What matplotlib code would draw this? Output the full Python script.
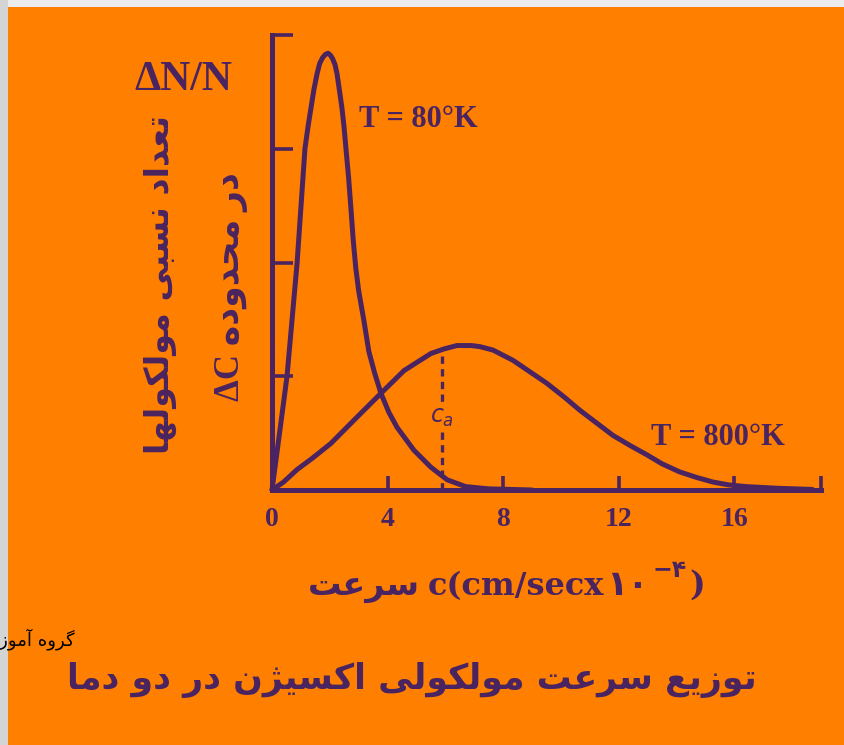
import matplotlib
matplotlib.use('Agg')
import matplotlib.pyplot as plt
from matplotlib.patches import Rectangle

# سرعت (c) و مقدار نسبی برای دو دما، خوانده شده از تصویر
c_80 = [0, 0.24, 0.52, 0.87, 1.14, 1.25, 1.35, 1.45, 1.56, 1.65, 1.75, 1.85, 1.94,
        2.03, 2.1, 2.18, 2.25, 2.33, 2.42, 2.49, 2.56, 2.65, 2.73, 2.81, 2.9, 3.0,
        3.18, 3.35, 3.55, 3.77, 4.05, 4.33, 4.91, 5.5, 6.06, 6.7, 7.5, 9.0]
n_80 = [0, 0.46, 1.0, 2.0, 3.0, 3.2, 3.36, 3.52, 3.66, 3.75, 3.8, 3.83, 3.84,
        3.82, 3.79, 3.74, 3.66, 3.52, 3.36, 3.2, 3.0, 2.75, 2.48, 2.2, 1.95, 1.75,
        1.49, 1.22, 1.03, 0.85, 0.68, 0.55, 0.35, 0.2, 0.09, 0.03, 0.01, 0.0]

c_800 = [0, 0.4, 0.87, 1.4, 2.04, 2.94, 3.77, 4.57, 5.5, 5.95, 6.4, 6.9, 7.2, 7.65,
         8.34, 9.5, 10.1, 10.66, 11.8, 12.4, 12.97, 13.5, 14.1, 14.7, 15.26, 15.8,
         16.4, 17.5, 18.7]
n_800 = [0, 0.07, 0.18, 0.28, 0.41, 0.64, 0.85, 1.05, 1.2, 1.24, 1.27, 1.27, 1.26, 1.23,
         1.14, 0.94, 0.82, 0.70, 0.48, 0.39, 0.31, 0.23, 0.16, 0.11, 0.07, 0.045,
         0.03, 0.015, 0.005]

c_mark = 5.88
n_mark = 1.22

x_ticks = [0, 4, 8, 12, 16, 19]
x_labels = ['0', '4', '8', '12', '16', '']
y_ticks = [1, 2, 3, 4]

# شکل‌دهی ساده حروف فارسی (matplotlib خودش این کار را نمی‌کند)
FORMS = {
    'ا': '\ufe8d\ufe8e', 'آ': '\ufe81\ufe82',
    'ب': '\ufe8f\ufe90\ufe91\ufe92', 'ت': '\ufe95\ufe96\ufe97\ufe98',
    'ح': '\ufea1\ufea2\ufea3\ufea4', 'د': '\ufea9\ufeaa',
    'ر': '\ufead\ufeae', 'ز': '\ufeaf\ufeb0', 'ژ': '\ufb8a\ufb8b',
    'س': '\ufeb1\ufeb2\ufeb3\ufeb4', 'ش': '\ufeb5\ufeb6\ufeb7\ufeb8',
    'ع': '\ufec9\ufeca\ufecb\ufecc', 'ک': '\ufb8e\ufb8f\ufb90\ufb91',
    'گ': '\ufb92\ufb93\ufb94\ufb95', 'ل': '\ufedd\ufede\ufedf\ufee0',
    'م': '\ufee1\ufee2\ufee3\ufee4', 'ن': '\ufee5\ufee6\ufee7\ufee8',
    'ه': '\ufee9\ufeea\ufeeb\ufeec', 'و': '\ufeed\ufeee',
    'ی': '\ufbfc\ufbfd\ufbfe\ufbff',
}


def rtl(s):
    out = []
    for i, ch in enumerate(s):
        f = FORMS.get(ch)
        if f is None:
            out.append(ch)
            continue
        prev = s[i - 1] if i > 0 else ''
        nxt = s[i + 1] if i + 1 < len(s) else ''
        jp = prev in FORMS and len(FORMS[prev]) == 4
        jn = len(f) == 4 and nxt in FORMS
        if jp and jn:
            out.append(f[3])
        elif jp:
            out.append(f[1])
        elif jn:
            out.append(f[2])
        else:
            out.append(f[0])
    return ''.join(out)[::-1]


ink = '#4a2460'
orange = '#ff8000'
serif = ['Liberation Serif', 'DejaVu Sans']
fa_font = ['DejaVu Sans']
mixed = ['DejaVu Serif', 'DejaVu Sans']

fig = plt.figure(figsize=(8.44, 7.45), dpi=100)
fig.patch.set_facecolor('#ececec')
fig.add_artist(Rectangle((0, 0), 8 / 844, 1, transform=fig.transFigure,
                         facecolor='#d4d4d4', edgecolor='none', zorder=0))
fig.add_artist(Rectangle((8 / 844, 0), 1, 738 / 745, transform=fig.transFigure,
                         facecolor=orange, edgecolor='none', zorder=0))

ax = fig.add_axes([272 / 844, 255 / 745, 549 / 844, 455 / 745])
ax.set_facecolor('none')
ax.plot(c_80, n_80, color=ink, lw=3.6, solid_joinstyle='round', solid_capstyle='round',
        clip_on=False)
ax.plot(c_800, n_800, color=ink, lw=3.6, solid_joinstyle='round', solid_capstyle='round',
        clip_on=False)
ax.plot([c_mark, c_mark], [0, n_mark], color=ink, lw=2.4, ls=(0, (2.2, 1.6)))
ax.text(c_mark, 0.64, '$c_a$', color=ink, fontsize=17, ha='center', va='center',
        bbox=dict(facecolor=orange, edgecolor='none', pad=1))

ax.set_xlim(0, 19)
ax.set_ylim(0, 4)
for side in ['top', 'right']:
    ax.spines[side].set_visible(False)
for side in ['left', 'bottom']:
    ax.spines[side].set_linewidth(3.6)
    ax.spines[side].set_color(ink)
    ax.spines[side].set_capstyle('projecting')

ax.set_xticks(x_ticks)
ax.set_xticklabels(x_labels, fontfamily=serif, fontweight='bold', fontsize=20, color=ink)
ax.tick_params(axis='x', direction='in', length=10, width=2.6, color=ink, pad=12)
ax.set_yticks(y_ticks)
ax.set_yticklabels([])
ax.tick_params(axis='y', direction='in', length=15, width=2.6, color=ink)

ax.text(3.0, 3.26, 'T = 80°K', fontfamily=serif, fontweight='bold', fontsize=22,
        color=ink, va='center')
ax.text(13.1, 0.46, 'T = 800°K', fontfamily=serif, fontweight='bold', fontsize=22,
        color=ink, va='center')

# برچسب محور عمودی
fig.text(183 / 844, 665 / 745, 'ΔN/N', fontfamily=serif, fontweight='bold', fontsize=30,
         color=ink, ha='center', va='center')
fig.text(160 / 844, 460 / 745, rtl('تعداد نسبی مولکولها'), fontfamily=fa_font,
         fontweight='bold', fontsize=24, color=ink, rotation=90, ha='center', va='center')
fig.text(232 / 844, 458 / 745, 'ΔC ' + rtl('در محدوده'), fontfamily=serif,
         fontweight='bold', fontsize=25, color=ink, rotation=90, ha='center', va='center')

# برچسب محور افقی
t1 = fig.text(420 / 844, 150 / 745, rtl('سرعت'), fontfamily=fa_font, fontweight='bold',
              fontsize=24, color=ink, ha='right', va='baseline')
t2 = fig.text(428 / 844, 150 / 745, 'c(cm/secx', fontfamily=mixed,
              fontweight='bold', fontsize=23, color=ink, ha='left', va='baseline')
t2b = ax.annotate('۱۰', xy=(1, 150), xycoords=(t2, 'figure pixels'), xytext=(1, 0),
                  textcoords='offset points', fontfamily=fa_font,
                  fontweight='bold', fontsize=25, color=ink, ha='left', va='baseline')
t3 = ax.annotate('−۴', xy=(1, 168), xycoords=(t2b, 'figure pixels'), xytext=(3, 0),
                 textcoords='offset points', fontfamily=mixed,
                 fontweight='bold', fontsize=17, color=ink, ha='left', va='baseline')
ax.annotate(')', xy=(1, 150), xycoords=(t3, 'figure pixels'), xytext=(2, 0),
            textcoords='offset points', fontfamily=['DejaVu Serif'],
            fontweight='bold', fontsize=24, color=ink, ha='left', va='baseline')

# عنوان
fig.text(412 / 844, 65 / 745, rtl('توزیع سرعت مولکولی اکسیژن در دو دما'),
         fontfamily=fa_font, fontweight='bold', fontsize=25, color=ink,
         ha='center', va='center')
fig.text(75 / 844, 106 / 745, rtl('گروه آموزشی'), fontfamily=fa_font, fontsize=13,
         color='black', ha='right', va='center')

fig.savefig('out.png', dpi=100, facecolor=fig.get_facecolor())
